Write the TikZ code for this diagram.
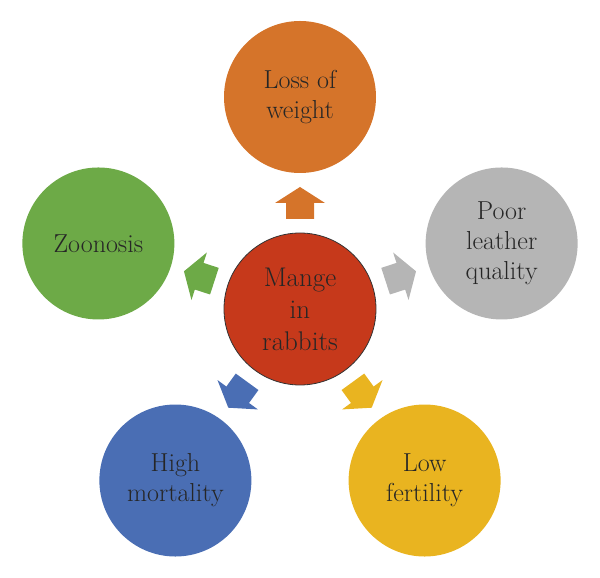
\documentclass[tikz,border=0pt]{standalone}
\usepackage{fontspec}
\setmainfont{Latin Modern Roman}
\usetikzlibrary{calc}
\definecolor{corange}{HTML}{D5742A}
\definecolor{cgray}{HTML}{B5B5B5}
\definecolor{cyellow}{HTML}{E9B420}
\definecolor{cblue}{HTML}{4A6EB4}
\definecolor{cgreen}{HTML}{6DAA47}
\definecolor{cred}{HTML}{C6391B}
\definecolor{ctext}{HTML}{262626}
\tikzset{
  bubble/.style={circle, minimum size=152pt, inner sep=0pt, align=center,
    text=ctext, font=\fontsize{26}{30}\selectfont},
  hub/.style={bubble, draw=black!80, line width=0.8pt, fill=cred,
    font=\fontsize{27}{32}\selectfont}
}
\newcommand{\blockarrow}[3]{%
  \fill[#3, shift={(#1)}, rotate=#2]
    (16pt,0) -- (0,25pt) -- (0,14pt) -- (-16pt,14pt) -- (-16pt,-14pt)
    -- (0,-14pt) -- (0,-25pt) -- cycle;}
\begin{document}
\begin{tikzpicture}[x=1pt,y=1pt]
\useasboundingbox (0,0) rectangle (600,578);
\node[hub] (c) at (300,269) {Mange\\in\\rabbits};
\node[bubble, fill=corange] (t) at ($(c)+(90:212)$) {Loss of\\weight};
\node[bubble, fill=cgray] (r) at ($(c)+(18:212)$) {Poor\\leather\\quality};
\node[bubble, fill=cyellow] (lr) at ($(c)+(-54:212)$) {Low\\fertility};
\node[bubble, fill=cblue] (ll) at ($(c)+(-126:212)$) {High\\mortality};
\node[bubble, fill=cgreen] (l) at ($(c)+(162:212)$) {Zoonosis};
\coordinate (at) at ($(c)!0.5!(t)$);
\coordinate (ar) at ($(c)!0.5!(r)$);
\coordinate (alr) at ($(c)!0.5!(lr)$);
\coordinate (all) at ($(c)!0.5!(ll)$);
\coordinate (al) at ($(c)!0.5!(l)$);
\blockarrow{at}{90}{corange}
\blockarrow{ar}{18}{cgray}
\blockarrow{alr}{-54}{cyellow}
\blockarrow{all}{-126}{cblue}
\blockarrow{al}{162}{cgreen}
\end{tikzpicture}
\end{document}
